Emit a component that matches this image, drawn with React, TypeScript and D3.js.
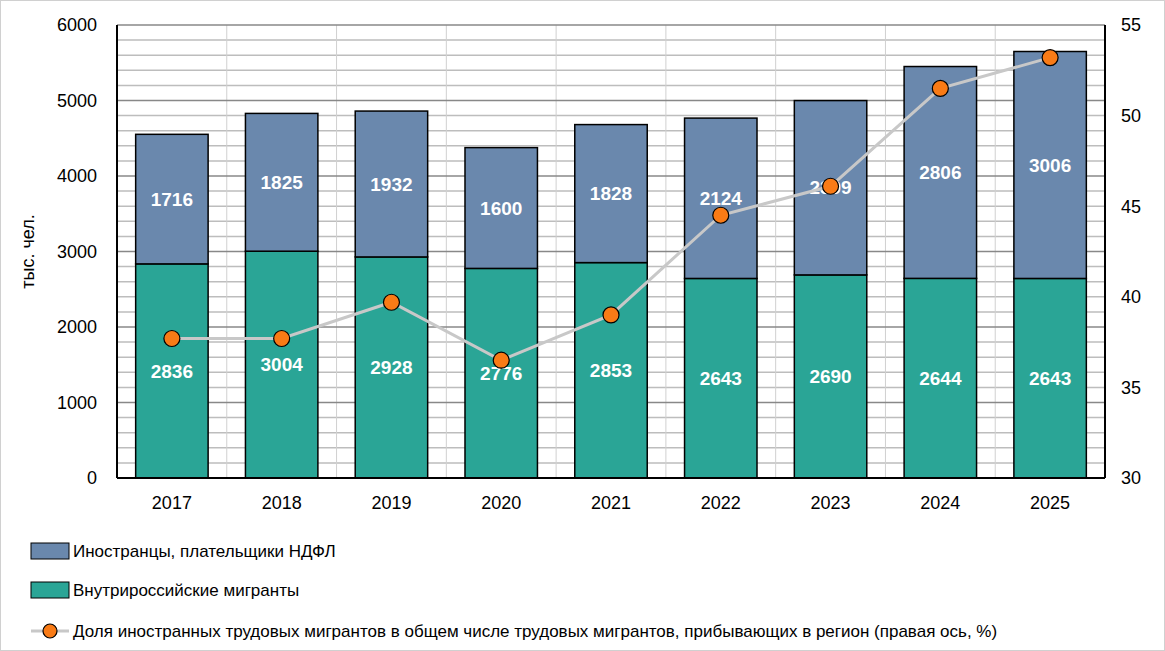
import * as d3 from "d3";

const years = ["2017", "2018", "2019", "2020", "2021", "2022", "2023", "2024", "2025"];
const domestic = [2836, 3004, 2928, 2776, 2853, 2643, 2690, 2644, 2643];
const foreign = [1716, 1825, 1932, 1600, 1828, 2124, 2309, 2806, 3006];
const share = [37.7, 37.7, 39.7, 36.5, 39.0, 44.5, 46.1, 51.5, 53.2];
const leftTicks = [0, 1000, 2000, 3000, 4000, 5000, 6000];
const rightTicks = [30, 35, 40, 45, 50, 55];

const W = 1165, H = 651;
const m = { left: 117, right: 1105, top: 25, bottom: 478 };
const font = "'Liberation Sans', Arial, sans-serif";

export default function App() {
  const x = d3.scaleBand().domain(years).range([m.left, m.right]).paddingInner(0.34).paddingOuter(0.17);
  const y = d3.scaleLinear().domain([0, 6000]).range([m.bottom, m.top]);
  const y2 = d3.scaleLinear().domain([30, 55]).range([m.bottom, m.top]);
  const cx = (i: number) => x(years[i])! + x.bandwidth() / 2;
  const line = d3.line<number>().x((_, i) => cx(i)).y(d => y2(d));
  const minor = d3.range(200, 6001, 200).filter(v => v % 1000 !== 0);
  const step = (m.right - m.left) / years.length;

  return (
    <svg width={W} height={H} style={{ position: "absolute", left: 0, top: 0 }} fontFamily={font}>
      <rect x={0.5} y={0.5} width={W - 1} height={H - 1} fill="white" stroke="#d0d0d0" />
      {minor.map(v => (
        <line key={v} x1={m.left} x2={m.right} y1={y(v)} y2={y(v)} stroke="#bdbdbd" strokeWidth={1.5} />
      ))}
      {d3.range(1, years.length).map(i => (
        <line key={i} x1={m.left + i * step} x2={m.left + i * step} y1={m.top} y2={m.bottom} stroke="#d0d0d0" />
      ))}
      {leftTicks.slice(1).map(v => (
        <line key={v} x1={m.left} x2={m.right} y1={y(v)} y2={y(v)} stroke="#888" strokeWidth={1.5} />
      ))}
      {years.map((yr, i) => (
        <g key={yr}>
          <rect x={x(yr)} y={y(domestic[i])} width={x.bandwidth()} height={y(0) - y(domestic[i])} fill="#2aa596" stroke="#000" strokeWidth={1.5} />
          <rect x={x(yr)} y={y(domestic[i] + foreign[i])} width={x.bandwidth()} height={y(domestic[i]) - y(domestic[i] + foreign[i])} fill="#6a88ad" stroke="#000" strokeWidth={1.5} />
          <text x={cx(i)} y={y(domestic[i] / 2)} dy="0.35em" textAnchor="middle" fill="white" fontWeight="bold" fontSize={19}>{domestic[i]}</text>
          <text x={cx(i)} y={y(domestic[i] + foreign[i] / 2)} dy="0.35em" textAnchor="middle" fill="white" fontWeight="bold" fontSize={19}>{foreign[i]}</text>
          <text x={cx(i)} y={m.bottom + 31} textAnchor="middle" fontSize={18}>{yr}</text>
        </g>
      ))}
      <line x1={m.left} x2={m.left} y1={m.top} y2={m.bottom} stroke="#000" strokeWidth={2} />
      <line x1={m.right} x2={m.right} y1={m.top} y2={m.bottom} stroke="#000" strokeWidth={2} />
      <line x1={m.left} x2={m.right} y1={m.bottom} y2={m.bottom} stroke="#000" strokeWidth={2} />
      {leftTicks.map(v => (
        <text key={v} x={m.left - 20} y={y(v)} dy="0.35em" textAnchor="end" fontSize={18}>{v}</text>
      ))}
      {rightTicks.map(v => (
        <text key={v} x={m.right + 16} y={y2(v)} dy="0.35em" fontSize={18}>{v}</text>
      ))}
      <text transform={`translate(34,${(m.top + m.bottom) / 2}) rotate(-90)`} textAnchor="middle" fontSize={18}>тыс. чел.</text>
      <path d={line(share) ?? ""} fill="none" stroke="#c8c8c8" strokeWidth={3} />
      {share.map((v, i) => (
        <circle key={i} cx={cx(i)} cy={y2(v)} r={8} fill="#f97b16" stroke="#000" strokeWidth={1.2} />
      ))}
      <g fontSize={17}>
        <rect x={31} y={543} width={38} height={16} fill="#6a88ad" stroke="#000" />
        <text x={73} y={551} dy="0.35em">Иностранцы, плательщики НДФЛ</text>
        <rect x={31} y={582} width={38} height={16} fill="#2aa596" stroke="#000" />
        <text x={73} y={590} dy="0.35em">Внутрироссийские мигранты</text>
        <line x1={31} x2={69} y1={631} y2={631} stroke="#c8c8c8" strokeWidth={3} />
        <circle cx={50} cy={631} r={7} fill="#f97b16" stroke="#000" strokeWidth={1.2} />
        <text x={73} y={631} dy="0.35em">Доля иностранных трудовых мигрантов в общем числе трудовых мигрантов, прибывающих в регион (правая ось, %)</text>
      </g>
    </svg>
  );
}
